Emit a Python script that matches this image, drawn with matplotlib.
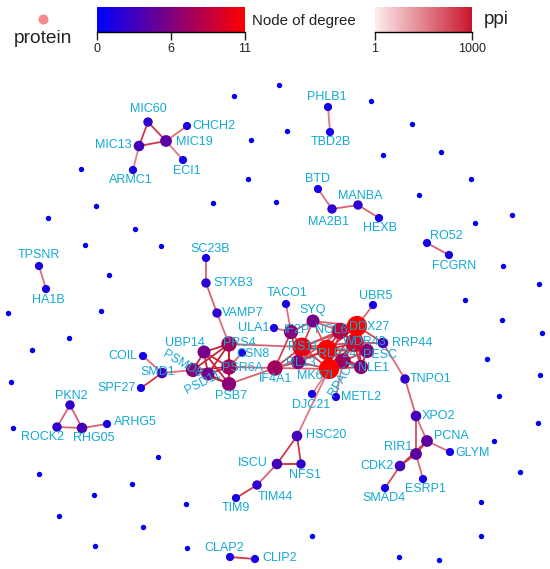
import matplotlib
matplotlib.use("Agg")
import matplotlib.pyplot as plt
from matplotlib.colors import LinearSegmentedColormap, Normalize
from matplotlib.collections import LineCollection
import numpy as np

plt.rcParams['font.family'] = ['Liberation Sans', 'DejaVu Sans']

# proteins that take part in at least one interaction (layout position in the image)
names = ["MIC60", "CHCH2", "MIC13", "MIC19", "ECI1", "ARMC1", "PHLB1", "TBD2B",
         "BTD", "MA2B1", "MANBA", "HEXB", "RO52", "FCGRN", "TPSNR", "HA1B",
         "SC23B", "STXB3", "VAMP7", "TACO1", "UBR5", "SYQ", "ULA1", "IF2P",
         "NOL6", "DDX27", "WDR43", "RRP44", "PESC", "NLE1", "RS11", "RLP24",
         "RL13", "MK67I", "RPAC1", "METL2", "DJC21", "IF4A1", "UBP14", "PRS4",
         "CSN8", "PSMD8", "PSD11", "PSR6A", "PSB7", "COIL", "SMD1", "SPF27",
         "PKN2", "ROCK2", "RHG05", "ARHG5", "TNPO1", "XPO2", "PCNA", "GLYM",
         "RIR1", "CDK2", "ESRP1", "SMAD4", "HSC20", "NFS1", "ISCU", "TIM44",
         "TIM9", "CLAP2", "CLIP2"]
node_x = [148, 187, 139, 166, 183, 133, 328, 330,
          318, 332, 358, 379, 427, 449, 39, 46,
          206, 206, 217, 286, 373, 313, 274, 291,
          340, 357, 354, 383, 367, 361, 302, 327,
          298, 329, 343, 336, 312, 275, 204, 229,
          242, 193, 208, 229, 229, 143, 162, 141,
          70, 57, 82, 107, 405, 416, 427, 450,
          416, 400, 423, 385, 297, 301, 277, 257,
          236, 230, 255]
node_y = [122, 126, 146, 141, 160, 170, 107, 132,
          189, 209, 205, 218, 243, 255, 266, 289,
          258, 283, 313, 304, 305, 321, 328, 332,
          331, 326, 343, 343, 351, 367, 347, 350,
          362, 369, 361, 397, 394, 368, 352, 344,
          353, 370, 374, 367, 384, 356, 373, 388,
          405, 427, 428, 424, 379, 416, 441, 452,
          454, 466, 479, 488, 436, 464, 464, 485,
          498, 557, 559]

# proteins without any interaction
lone_x = [234, 81, 251, 248, 96, 213, 276, 48, 135, 85, 161, 109, 8, 101,
          279, 371, 287, 412, 383, 441, 471, 419, 512, 475, 503, 539, 465,
          69, 32, 11, 13, 158, 39, 132, 94, 186, 59, 143, 95, 187,
          502, 542, 487, 540, 499, 538, 494, 520, 481, 481, 312, 399, 439]
lone_y = [96, 169, 140, 179, 206, 203, 202, 218, 229, 245, 246, 275, 313, 311,
          85, 101, 131, 124, 155, 152, 179, 195, 215, 223, 266, 284, 300,
          338, 350, 382, 428, 457, 474, 484, 495, 504, 516, 527, 546, 548,
          320, 333, 359, 375, 396, 423, 441, 472, 502, 536, 536, 557, 560]

# interactions with their ppi score
edges = [
    ("MIC60", "MIC13", 850), ("MIC60", "MIC19", 850), ("MIC13", "MIC19", 850),
    ("MIC19", "CHCH2", 600), ("MIC19", "ECI1", 550), ("MIC13", "ARMC1", 500),
    ("PHLB1", "TBD2B", 550), ("BTD", "MA2B1", 600), ("MA2B1", "MANBA", 650),
    ("MANBA", "HEXB", 650), ("RO52", "FCGRN", 650), ("TPSNR", "HA1B", 600),
    ("SC23B", "STXB3", 650), ("STXB3", "VAMP7", 650), ("VAMP7", "PRS4", 600),
    ("COIL", "SMD1", 600), ("SPF27", "SMD1", 850), ("SMD1", "PSMD8", 600),
    ("PKN2", "ROCK2", 650), ("PKN2", "RHG05", 650), ("ROCK2", "RHG05", 650),
    ("RHG05", "ARHG5", 650), ("CLAP2", "CLIP2", 850),
    ("TIM9", "TIM44", 850), ("TIM44", "ISCU", 650), ("ISCU", "HSC20", 850),
    ("ISCU", "NFS1", 900), ("HSC20", "NFS1", 850), ("HSC20", "MK67I", 550),
    ("DJC21", "MK67I", 500), ("METL2", "RPAC1", 500),
    ("RRP44", "TNPO1", 600), ("TNPO1", "XPO2", 650), ("XPO2", "RIR1", 750),
    ("XPO2", "PCNA", 600), ("PCNA", "RIR1", 850), ("PCNA", "GLYM", 600),
    ("RIR1", "CDK2", 850), ("RIR1", "ESRP1", 600), ("CDK2", "SMAD4", 750),
    ("CDK2", "PCNA", 850),
    ("UBP14", "PRS4", 950), ("UBP14", "PSMD8", 950), ("UBP14", "PSD11", 950),
    ("UBP14", "PSR6A", 950), ("UBP14", "PSB7", 950), ("PRS4", "PSMD8", 950),
    ("PRS4", "PSD11", 950), ("PRS4", "PSR6A", 950), ("PRS4", "PSB7", 950),
    ("PSMD8", "PSD11", 950), ("PSMD8", "PSR6A", 950), ("PSMD8", "PSB7", 950),
    ("PSD11", "PSR6A", 950), ("PSD11", "PSB7", 950), ("PSR6A", "PSB7", 950),
    ("PSR6A", "CSN8", 650), ("PRS4", "RS11", 650), ("PSR6A", "IF4A1", 650),
    ("PSB7", "IF4A1", 650),
    ("TACO1", "IF2P", 600), ("ULA1", "IF2P", 600), ("SYQ", "IF2P", 750),
    ("IF4A1", "IF2P", 800), ("RS11", "IF2P", 850), ("RL13", "IF2P", 850),
    ("SYQ", "NOL6", 650), ("SYQ", "DDX27", 650), ("SYQ", "RS11", 750),
    ("SYQ", "RLP24", 650), ("IF4A1", "RS11", 800), ("IF4A1", "RL13", 800),
    ("IF4A1", "MK67I", 650), ("IF4A1", "RLP24", 650),
    ("RS11", "RL13", 900), ("RS11", "RLP24", 900), ("RS11", "MK67I", 800),
    ("RS11", "NOL6", 800), ("RS11", "DDX27", 750), ("RS11", "WDR43", 750),
    ("RL13", "RLP24", 900), ("RL13", "MK67I", 800), ("RL13", "NOL6", 750),
    ("RLP24", "MK67I", 900), ("RLP24", "NOL6", 900), ("RLP24", "DDX27", 900),
    ("RLP24", "WDR43", 900), ("RLP24", "PESC", 900), ("RLP24", "NLE1", 900),
    ("RLP24", "RPAC1", 850), ("MK67I", "DDX27", 850), ("MK67I", "WDR43", 850),
    ("MK67I", "NLE1", 850), ("MK67I", "RPAC1", 850), ("MK67I", "NOL6", 850),
    ("UBR5", "DDX27", 600), ("DDX27", "NOL6", 900), ("DDX27", "WDR43", 900),
    ("DDX27", "PESC", 900), ("DDX27", "NLE1", 900), ("DDX27", "RRP44", 800),
    ("DDX27", "RPAC1", 850), ("NOL6", "WDR43", 900), ("NOL6", "PESC", 900),
    ("WDR43", "PESC", 950), ("WDR43", "NLE1", 900), ("WDR43", "RRP44", 800),
    ("WDR43", "RPAC1", 850), ("PESC", "NLE1", 950), ("PESC", "RPAC1", 850),
    ("NLE1", "RPAC1", 850),
]

deg_ticks = ["0", "6", "11"]
ppi_ticks = ["1", "1000"]

# label placement next to each node: dx, dy (pixels), alignment
label_pos = {
    "MIC60": (0, -13, "center"), "CHCH2": (5, 0, "left"), "MIC13": (-7, -1, "right"),
    "MIC19": (10, 1, "left"), "ECI1": (4, 11, "center"), "ARMC1": (-2, 10, "center"),
    "PHLB1": (-1, -10, "center"), "TBD2B": (1, 10, "center"), "BTD": (-1, -10, "center"),
    "MA2B1": (-3, 13, "center"), "MANBA": (2, -9, "center"), "HEXB": (1, 10, "center"),
    "RO52": (3, -7, "left"), "FCGRN": (5, 11, "center"), "TPSNR": (0, -11, "center"),
    "HA1B": (2, 11, "center"), "SC23B": (4, -9, "center"), "STXB3": (7, 0, "left"),
    "VAMP7": (5, 0, "left"), "TACO1": (1, -11, "center"), "UBR5": (3, -9, "center"),
    "SYQ": (0, -11, "center"), "ULA1": (-5, 0, "right"), "IF2P": (6, -2, "center"),
    "NOL6": (-9, -1, "center"), "DDX27": (12, 1, "center"), "WDR43": (11, -1, "center"),
    "RRP44": (9, 0, "left"), "PESC": (13, 4, "center"), "NLE1": (13, 1, "center"),
    "RS11": (1, 0, "center"), "RLP24": (10, 4, "center"), "RL13": (3, 1, "center"),
    "MK67I": (-14, 7, "center"), "RPAC1": (-1, 17, "center"), "METL2": (5, 0, "left"),
    "DJC21": (-1, 11, "center"), "IF4A1": (1, 11, "center"), "UBP14": (-19, -9, "center"),
    "PRS4": (10, -1, "center"), "CSN8": (11, 1, "center"), "PSMD8": (-11, -6, "center"),
    "PSD11": (-5, 9, "center"), "PSR6A": (14, 1, "center"), "PSB7": (2, 12, "center"),
    "COIL": (-6, 0, "right"), "SMD1": (-4, -1, "center"), "SPF27": (-5, 0, "right"),
    "PKN2": (1, -9, "center"), "ROCK2": (-15, 10, "center"), "RHG05": (12, 10, "center"),
    "ARHG5": (7, -2, "left"), "TNPO1": (5, 0, "left"), "XPO2": (6, 0, "left"),
    "PCNA": (7, -5, "left"), "GLYM": (5, 1, "left"), "RIR1": (-4, -7, "right"),
    "CDK2": (-6, 0, "right"), "ESRP1": (2, 10, "center"), "SMAD4": (-1, 10, "center"),
    "HSC20": (9, -1, "left"), "NFS1": (4, 11, "center"), "ISCU": (-9, -1, "right"),
    "TIM44": (18, 12, "center"), "TIM9": (0, 10, "center"), "CLAP2": (-6, -9, "center"),
    "CLIP2": (7, -1, "left"),
}
label_rot = {"PSMD8": -30, "PSD11": 27, "RPAC1": 58}

deg_cmap = LinearSegmentedColormap.from_list("deg", ["#0000ff", "#ff0000"])
ppi_cmap = LinearSegmentedColormap.from_list("ppi", ["#fdeeee", "#c8172c"])
deg_norm = Normalize(0, 11)
ppi_norm = Normalize(1, 1000)

pos = {n: (x, y) for n, x, y in zip(names, node_x, node_y)}
degree = {n: 0 for n in names}
for a, b, w in edges:
    degree[a] += 1
    degree[b] += 1


def marker_area(r):
    return (2 * r * 0.72) ** 2


fig = plt.figure(figsize=(5.5, 5.69), dpi=100)
ax = fig.add_axes([0, 0, 1, 1])
ax.set_xlim(0, 550)
ax.set_ylim(569, 0)
ax.axis("off")

# edges
segs = [[pos[a], pos[b]] for a, b, w in edges]
ecols = [ppi_cmap(ppi_norm(w)) for a, b, w in edges]
ax.add_collection(LineCollection(segs, colors=ecols, linewidths=1.3, zorder=1))

# lone proteins
ax.scatter(lone_x, lone_y, s=marker_area(2.7), color="#0000ee", lw=0, zorder=2)

# connected proteins, small first so hubs end up on top
order = sorted(names, key=lambda n: degree[n])
xs = [pos[n][0] for n in order]
ys = [pos[n][1] for n in order]
ds = np.array([degree[n] for n in order])
ax.scatter(xs, ys, s=marker_area(3.5 + 0.6 * ds), c=ds, cmap=deg_cmap,
           norm=deg_norm, lw=0, zorder=2)

for n in names:
    dx, dy, ha = label_pos[n]
    ax.text(pos[n][0] + dx, pos[n][1] + dy, n, ha=ha, va="center",
            rotation=label_rot.get(n, 0), rotation_mode="anchor",
            fontsize=9, color="#12aad4", zorder=3)

# legend
ax.scatter([43], [19], s=marker_area(5), color="#f58a8a", lw=0)
ax.text(43, 38, "protein", ha="center", va="center", fontsize=13.8, color="#222222")
ax.text(252, 21, "Node of degree", ha="left", va="center", fontsize=10.8, color="#222222")
ax.text(484, 19, "ppi", ha="left", va="center", fontsize=13.5, color="#222222")


def bar(left, width, cmap, labels):
    cax = fig.add_axes([left / 550, 1 - 32 / 569, width / 550, 25 / 569])
    cax.imshow(np.linspace(0, 1, 256)[None, :], aspect="auto", cmap=cmap,
               extent=[0, 1, 0, 1])
    for s in ["top", "left", "right"]:
        cax.spines[s].set_visible(False)
    cax.spines["bottom"].set_linewidth(1.0)
    cax.set_yticks([])
    cax.set_xticks(np.linspace(0, 1, len(labels)))
    cax.set_xticklabels(labels)
    cax.tick_params(axis="x", length=6, width=1.0, labelsize=9, pad=2, colors="#222222")
    cax.set_xlim(0, 1)
    return cax


bar(97, 148, deg_cmap, deg_ticks)
bar(375, 97, ppi_cmap, ppi_ticks)

fig.savefig("out.png", dpi=100)
